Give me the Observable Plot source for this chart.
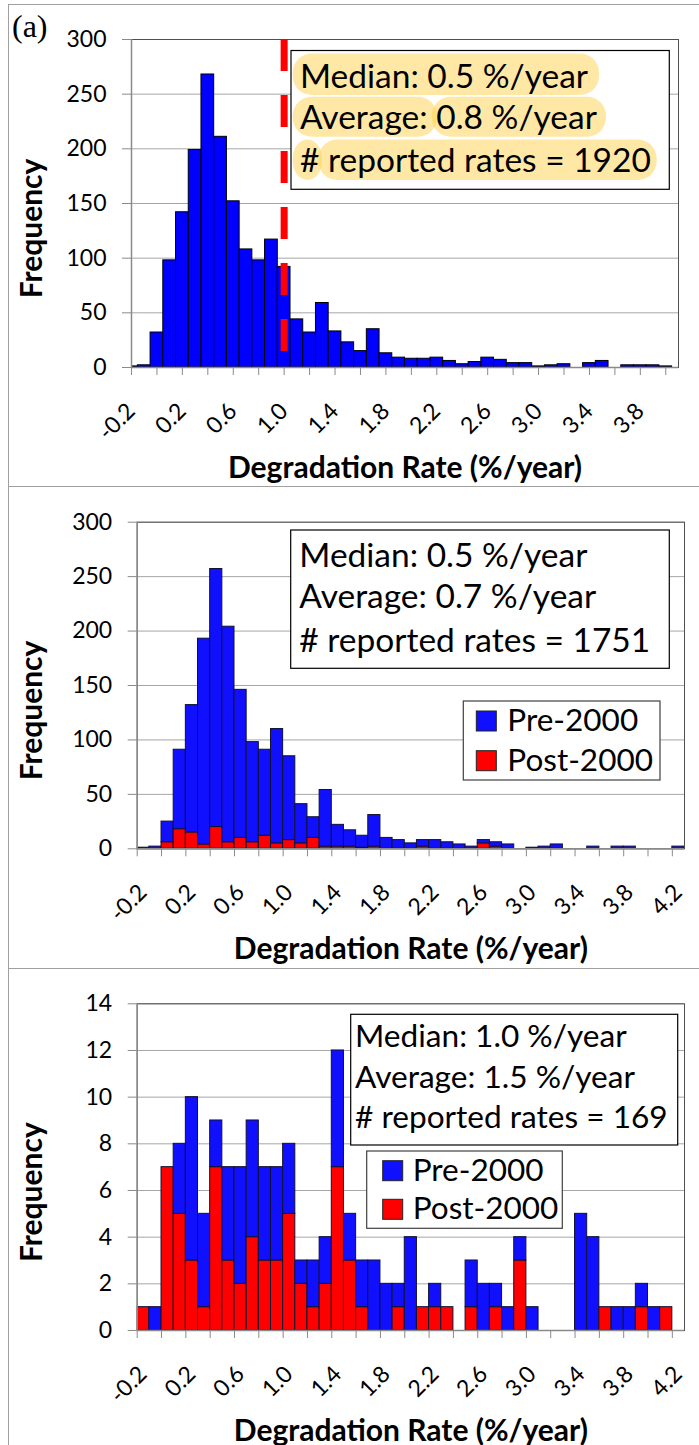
<!DOCTYPE html>
<html>
<head>
<meta charset="utf-8">
<script src="https://cdn.jsdelivr.net/npm/d3@7"></script>
<script src="https://cdn.jsdelivr.net/npm/@observablehq/plot@0.6"></script>
<style>
  html, body { margin: 0; padding: 0; background: #fff; }
  #page { position: relative; width: 699px; height: 1445px; overflow: hidden; background: #fff; }
  .panel { position: absolute; left: 0; }
  .hl { position: absolute; left: 8px; width: 700px; height: 0; border-top: 1px solid #a0a0a0; }
  .vl { position: absolute; left: 8px; top: 4px; height: 1445px; width: 0; border-left: 1px solid #a0a0a0; }
</style>
</head>
<body>
<div id="page"></div>
<script>
// ---------------- data ----------------
const binsA = [-0.2,-0.1,0.0,0.1,0.2,0.3,0.4,0.5,0.6,0.7,0.8,0.9,1.0,1.1,1.2,1.3,1.4,1.5,1.6,1.7,1.8,1.9,2.0,2.1,2.2,2.3,2.4,2.5,2.6,2.7,2.8,2.9,3.0,3.1,3.2,3.3,3.4,3.5,3.6,3.7,3.8,3.9,4.0];
const binsB = [-0.2,-0.1,0.0,0.1,0.2,0.3,0.4,0.5,0.6,0.7,0.8,0.9,1.0,1.1,1.2,1.3,1.4,1.5,1.6,1.7,1.8,1.9,2.0,2.1,2.2,2.3,2.4,2.5,2.6,2.7,2.8,2.9,3.0,3.1,3.2,3.3,3.4,3.5,3.6,3.7,3.8,3.9,4.0,4.1,4.2];

// panel (a): all reported rates
const freqAll = [1,2,32,98,142,199,268,211,152,108,98,117,92,44,32,59,33,23,15,35,13,9,8,8,9,6,3,5,9,7,4,4,1,2,3,0,4,6,0,2,2,2,1];

// panel 2: stacked pre/post 2000
const pre2  = [0,2,19,73,117,189,237,198,136,92,79,105,77,36,19,52,20,15,11,29,10,8,5,6,8,6,4,2,3,4,4,0,0,2,4,0,0,2,0,2,2,0,0,0,2];
const post2 = [1,0,6,18,15,4,20,6,10,6,12,5,8,5,10,2,2,2,1,2,0,0,0,2,0,0,0,0,5,2,0,0,1,0,0,0,0,0,0,0,0,0,0,0,0];

// panel 3: stacked pre/post 2000
const pre3  = [0,1,0,3,7,4,2,4,5,5,4,4,3,1,2,2,5,2,2,3,2,1,4,0,1,0,0,2,2,1,1,1,1,0,0,0,5,4,0,1,1,1,1,0,0];
const post3 = [1,0,7,5,3,1,7,3,2,4,3,3,5,2,1,2,7,3,1,0,0,1,0,1,1,1,0,1,0,1,0,3,0,0,0,0,0,0,1,0,0,1,0,1,0];

const yTicksA = [0,50,100,150,200,250,300];
const yTicksC = [0,2,4,6,8,10,12,14];
const xTicksA = [-0.2,0.0,0.2,0.4,0.6,0.8,1.0,1.2,1.4,1.6,1.8,2.0,2.2,2.4,2.6,2.8,3.0,3.2,3.4,3.6,3.8,4.0];
const xLabelsA = [-0.2,0.2,0.6,1.0,1.4,1.8,2.2,2.6,3.0,3.4,3.8];
const xTicksB = [-0.25,-0.05,0.15,0.35,0.55,0.75,0.95,1.15,1.35,1.55,1.75,1.95,2.15,2.35,2.55,2.75,2.95,3.15,3.35,3.55,3.75,3.95,4.15];
const xLabelsB = [-0.2,0.2,0.6,1.0,1.4,1.8,2.2,2.6,3.0,3.4,3.8,4.2];

const medianLine = [1.0];
const series = ["Pre-2000", "Post-2000"];
const statsA = ["Median: 0.5 %/year", "Average: 0.8 %/year", "# reported rates = 1920"];
const statsB = ["Median: 0.5 %/year", "Average: 0.7 %/year", "# reported rates = 1751"];
const statsC = ["Median: 1.0 %/year", "Average: 1.5 %/year", "# reported rates = 169"];
const xTitle = "Degradation Rate (%/year)";
const yTitle = "Frequency";

// ---------------- styling ----------------
const FONT = "Lato, 'Open Sans', sans-serif";
const BLUE = "#1010ff";
const RED = "#ff0000";
const binWidth = 0.1;
const page = d3.select("#page");

function stackedRows(bins, pre, post) {
  const rows = [];
  bins.forEach((b, i) => {
    if (post[i] > 0) rows.push({x1: b - binWidth/2, x2: b + binWidth/2, y1: 0, y2: post[i], s: "Post-2000"});
    if (pre[i] > 0) rows.push({x1: b - binWidth/2, x2: b + binWidth/2, y1: post[i], y2: post[i] + pre[i], s: "Pre-2000"});
  });
  return rows;
}

function makePanel(cfg) {
  const marks = [
    Plot.ruleY(cfg.yTicks, {stroke: "#a6a6a6", strokeWidth: 1}),
    Plot.rect(cfg.rows, {x1: "x1", x2: "x2", y1: "y1", y2: "y2",
      fill: d => d.s === "Post-2000" ? RED : cfg.blue,
      stroke: cfg.barStroke, strokeWidth: 1, clip: true}),
    Plot.frame({stroke: "#505050", strokeWidth: 1}),
    Plot.ruleX([cfg.xDomain[0]], {stroke: "#8a8a8a", strokeWidth: 1.5}),
    Plot.ruleY([0], {stroke: "#8a8a8a", strokeWidth: 1.5}),
    Plot.axisY(cfg.yTicks, {tickSize: 9, tickPadding: 16, fontSize: 23, stroke: "#8a8a8a", fill: "#000", tickFormat: d => String(d)}),
    Plot.axisX(cfg.xTicks, {tickSize: 8, tickPadding: 0, stroke: "#8a8a8a", tickFormat: () => ""}),
    Plot.text(cfg.xLabels, {x: d => d, text: d => d.toFixed(1), frameAnchor: "bottom",
      rotate: -45, textAnchor: "end", lineAnchor: "bottom", dx: 5, dy: 45, fontSize: 23, fill: "#000"}),
    Plot.text([yTitle], {frameAnchor: "left", dx: cfg.yTitleDx, dy: cfg.yTitleDy, rotate: -90,
      textAnchor: "middle", lineAnchor: "middle", fontSize: 30, fontWeight: "bold", fill: "#000"}),
    Plot.text([xTitle], {frameAnchor: "bottom", dy: 110, textAnchor: "middle", lineAnchor: "bottom",
      fontSize: 30, fontWeight: "bold", fill: "#000"})
  ];
  if (cfg.median) marks.push(Plot.ruleX(cfg.median, {stroke: RED, strokeWidth: 7, strokeDasharray: "32,24"}));
  const svg = Plot.plot({
    width: 699, height: cfg.height,
    marginLeft: cfg.ml, marginRight: cfg.mr, marginTop: cfg.mt, marginBottom: cfg.mb,
    x: {domain: cfg.xDomain, axis: null},
    y: {domain: cfg.yDomain, axis: null},
    style: {fontFamily: FONT, background: "transparent", overflow: "visible", color: "#000"},
    marks
  });
  const wrap = page.append("div").attr("class", "panel").style("top", cfg.top + "px");
  wrap.node().appendChild(svg);
  return d3.select(svg);
}

function label(g, x, y, t, fs, family) {
  return g.append("text").attr("x", x).attr("y", y).text(t)
    .attr("font-family", family || FONT).attr("font-size", fs).attr("fill", "#000")
    .attr("text-anchor", "start").style("text-anchor", "start");
}

function statsBox(g, box, lines, tx, baselines, fs, pills) {
  g.append("rect").attr("x", box[0]).attr("y", box[1]).attr("width", box[2] - box[0]).attr("height", box[3] - box[1])
    .attr("fill", "#fff").attr("stroke", "#000").attr("stroke-width", 1.2);
  if (pills) pills.forEach(p => g.append("rect").attr("x", p[0]).attr("y", p[1]).attr("width", p[2] - p[0])
    .attr("height", p[3] - p[1]).attr("rx", 19).attr("fill", "#ffd24d").attr("fill-opacity", 0.5));
  lines.forEach((t, i) => label(g, tx, baselines[i], t, fs));
}

function legendBox(g, box, sx, sy, tx, fs, blue) {
  g.append("rect").attr("x", box[0]).attr("y", box[1]).attr("width", box[2] - box[0]).attr("height", box[3] - box[1])
    .attr("fill", "#fff").attr("stroke", "#404040").attr("stroke-width", 1.2);
  series.forEach((s, i) => {
    g.append("rect").attr("x", sx).attr("y", sy[i]).attr("width", 20).attr("height", 20)
      .attr("fill", s === "Post-2000" ? RED : blue).attr("stroke", "#222").attr("stroke-width", 1);
    label(g, tx, sy[i] + 20, s, fs);
  });
}

// ---------------- panel 1 ----------------
const rowsA = binsA.map((b, i) => ({x1: b - binWidth/2, x2: b + binWidth/2, y1: 0, y2: freqAll[i], s: "All"})).filter(d => d.y2 > 0);
const s1 = makePanel({top: 0, height: 486, ml: 131, mr: 21, mt: 39, mb: 119,
  xDomain: [-0.2, 4.1], yDomain: [0, 300], yTicks: yTicksA, xTicks: xTicksA, xLabels: xLabelsA,
  rows: rowsA, blue: "#0000ff", barStroke: "#000", median: medianLine, yTitleDx: -99, yTitleDy: 25});
statsBox(s1, [291, 50.5, 669.3, 189.3], statsA, 300, [88.3, 129.3, 171.7], 33.5,
  [[292.7, 53.5, 599, 95], [292.7, 96.7, 437, 136.7], [431.7, 96.7, 606, 136.7], [292.7, 139.5, 322, 180], [318.3, 139.5, 656.7, 180]]);
label(s1, 12, 37, "(a)", 32, "'Liberation Serif', serif");

// ---------------- panel 2 ----------------
const s2 = makePanel({top: 486, height: 483, ml: 136.7, mr: 15, mt: 35.7, mb: 120.7,
  xDomain: [-0.25, 4.25], yDomain: [0, 300], yTicks: yTicksA, xTicks: xTicksB, xLabels: xLabelsB,
  rows: stackedRows(binsB, pre2, post2), blue: BLUE, barStroke: "#111133", yTitleDx: -105, yTitleDy: 25});
statsBox(s2, [290.7, 44, 669.3, 182.3], statsB, 299.3, [81.3, 122.3, 165.7], 33.5, null);
legendBox(s2, [463.3, 215, 660, 294], 476.3, [225, 264.7], 507.3, 31.5, BLUE);

// ---------------- panel 3 ----------------
const s3 = makePanel({top: 969, height: 476, ml: 136.7, mr: 15, mt: 34.3, mb: 115,
  xDomain: [-0.25, 4.25], yDomain: [0, 14], yTicks: yTicksC, xTicks: xTicksB, xLabels: xLabelsB,
  rows: stackedRows(binsB, pre3, post3), blue: BLUE, barStroke: "#111133", yTitleDx: -105, yTitleDy: 25});
statsBox(s3, [350.7, 45.3, 677.7, 176], statsC, 355, [78.3, 119.3, 159.3], 31.6, null);
legendBox(s3, [366.7, 182, 562.3, 259.3], 382.7, [191.7, 230.3], 412.7, 31.5, BLUE);

// ---------------- panel borders ----------------
page.append("div").attr("class", "vl");
[4, 486, 968].forEach(y => page.append("div").attr("class", "hl").style("top", y + "px"));
</script>
</body>
</html>
